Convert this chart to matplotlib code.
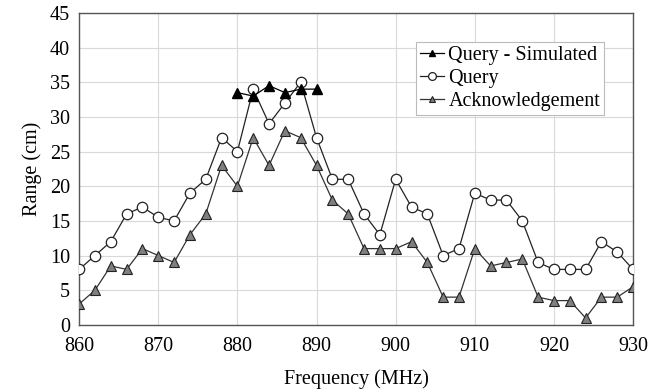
import matplotlib
matplotlib.use("Agg")
import matplotlib.pyplot as plt

freq = list(range(860, 932, 2))
query = [8, 10, 12, 16, 17, 15.5, 15, 19, 21, 27, 25, 34, 29, 32, 35, 27, 21, 21, 16, 13,
         21, 17, 16, 10, 11, 19, 18, 18, 15, 9, 8, 8, 8, 12, 10.5, 8]
ack = [3, 5, 8.5, 8, 11, 10, 9, 13, 16, 23, 20, 27, 23, 28, 27, 23, 18, 16, 11, 11,
       11, 12, 9, 4, 4, 11, 8.5, 9, 9.5, 4, 3.5, 3.5, 1, 4, 4, 5.5]
sim_freq = [880, 882, 884, 886, 888, 890]
sim = [33.5, 33, 34.5, 33.5, 34, 34]

plt.rcParams['font.family'] = ['Liberation Serif', 'DejaVu Serif']
plt.rcParams['font.size'] = 14.5

fig = plt.figure(figsize=(6.65, 3.9), dpi=100)
ax = fig.add_axes([0.119, 0.167, 0.833, 0.8])

ax.plot(sim_freq, sim, color='black', lw=0.9, marker='^', ms=6.5, mfc='black', mec='black',
        label='Query - Simulated', zorder=4)
ax.plot(freq, query, color='#222222', lw=0.9, marker='o', ms=7.5, mfc='white', mec='#222222',
        mew=0.9, label='Query', zorder=3)
ax.plot(freq, ack, color='#333333', lw=0.9, marker='^', ms=6.5, mfc='#7f7f7f', mec='#222222',
        mew=0.8, label='Acknowledgement', zorder=3)

ax.set_xlim(860, 930)
ax.set_ylim(0, 45)
ax.set_xticks(range(860, 931, 10))
ax.set_yticks(range(0, 46, 5))
ax.grid(True, color='#d9d9d9', lw=0.8)
ax.set_axisbelow(True)
ax.tick_params(axis='y', length=0, pad=6.5)
ax.tick_params(axis='x', length=0, pad=9)
for s in ax.spines.values():
    s.set_color('#555555')
    s.set_linewidth(1.0)

ax.set_xlabel('Frequency (MHz)', labelpad=9)
ax.set_ylabel('Range (cm)', labelpad=6)

leg = ax.legend(loc='upper right', bbox_to_anchor=(0.948, 0.907), frameon=True, fancybox=False,
                edgecolor='#bbbbbb', framealpha=1, borderpad=0.2, handlelength=1.2,
                handletextpad=0.2, labelspacing=0.2, borderaxespad=0, markerscale=0.75)
leg.get_frame().set_linewidth(0.8)

fig.savefig('out.png', dpi=100)
